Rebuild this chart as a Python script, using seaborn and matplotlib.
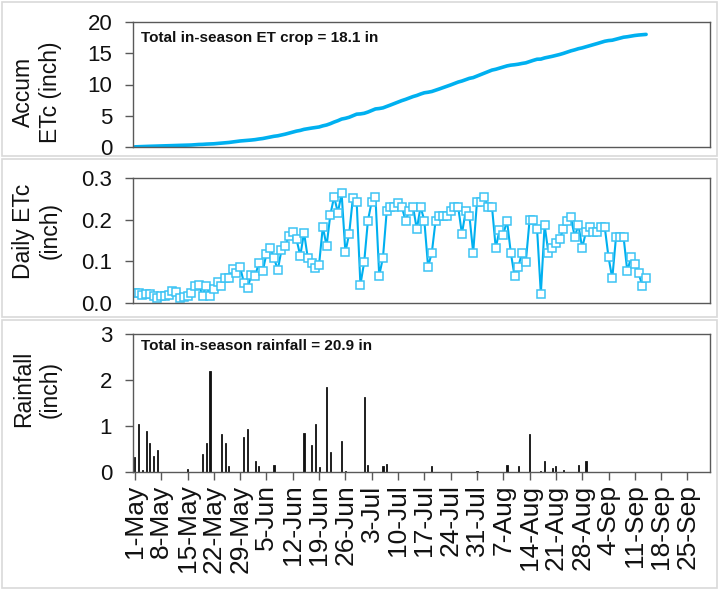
import numpy as np
import pandas as pd
import matplotlib
matplotlib.use("Agg")
import matplotlib.pyplot as plt
import seaborn as sns
from matplotlib.patches import Rectangle

# ---------------- data ----------------
season_start = "2024-05-01"

daily_etc = [
    0.023, 0.025, 0.020, 0.022, 0.022, 0.016, 0.012, 0.018, 0.016, 0.020,
    0.030, 0.027, 0.012, 0.014, 0.017, 0.023, 0.042, 0.044, 0.018, 0.042,
    0.017, 0.034, 0.050, 0.041, 0.060, 0.060, 0.081, 0.071, 0.086, 0.049,
    0.037, 0.067, 0.065, 0.097, 0.076, 0.118, 0.132, 0.109, 0.079, 0.127,
    0.137, 0.162, 0.170, 0.153, 0.113, 0.169, 0.108, 0.095, 0.084, 0.092,
    0.183, 0.137, 0.212, 0.255, 0.217, 0.263, 0.122, 0.166, 0.252, 0.243,
    0.044, 0.098, 0.198, 0.243, 0.254, 0.066, 0.109, 0.221, 0.231, 0.231,
    0.241, 0.231, 0.198, 0.221, 0.231, 0.177, 0.231, 0.198, 0.087, 0.121,
    0.198, 0.209, 0.209, 0.209, 0.220, 0.231, 0.231, 0.166, 0.220, 0.209,
    0.121, 0.242, 0.242, 0.254, 0.231, 0.231, 0.132, 0.175, 0.164, 0.198,
    0.121, 0.065, 0.087, 0.121, 0.098, 0.199, 0.199, 0.177, 0.022, 0.187,
    0.121, 0.132, 0.143, 0.154, 0.177, 0.198, 0.206, 0.159, 0.187, 0.132,
    0.171, 0.182, 0.170, 0.171, 0.182, 0.182, 0.110, 0.059, 0.159, 0.159,
    0.159, 0.076, 0.110, 0.094, 0.071, 0.042, 0.059,
]

# rainfall events: day offset from 1-May and depth (inch)
rain_day = [0, 1, 2, 3, 4, 5, 6, 14, 18, 19, 20, 23, 24, 25, 29, 30, 32, 33,
            37, 45, 47, 48, 49, 51, 52, 55, 56, 61, 62, 66, 67, 79, 91, 99,
            102, 105, 108, 109, 111, 112, 114, 118, 120]
rain_in = [0.33, 1.04, 0.04, 0.90, 0.62, 0.35, 0.47, 0.07, 0.40, 0.62, 2.19,
           0.83, 0.62, 0.12, 0.77, 0.94, 0.24, 0.14, 0.15, 0.85, 0.59, 1.04,
           0.10, 1.84, 0.44, 0.67, 0.02, 1.62, 0.15, 0.12, 0.17, 0.13, 0.03,
           0.15, 0.12, 0.82, 0.03, 0.23, 0.09, 0.12, 0.05, 0.15, 0.24]

tick_labels = ["1-May", "8-May", "15-May", "22-May", "29-May", "5-Jun",
               "12-Jun", "19-Jun", "26-Jun", "3-Jul", "10-Jul", "17-Jul",
               "24-Jul", "31-Jul", "7-Aug", "14-Aug", "21-Aug", "28-Aug",
               "4-Sep", "11-Sep", "18-Sep", "25-Sep"]

total_et_text = "Total in-season ET crop = 18.1 in"
total_rain_text = "Total in-season rainfall = 20.9 in"

# ---------------- build frames ----------------
start = pd.Timestamp(season_start)
df = pd.DataFrame({
    "date": pd.date_range(start, periods=len(daily_etc), freq="D"),
    "daily": daily_etc,
})
df["accum"] = df["daily"].cumsum()
rain_df = pd.DataFrame({
    "date": start + pd.to_timedelta(rain_day, unit="D"),
    "rain": rain_in,
})
tick_dates = pd.date_range(start, periods=len(tick_labels), freq="7D")

# ---------------- style ----------------
sns.set_theme(style="white")
plt.rcParams["font.family"] = ["Liberation Sans", "DejaVu Sans"]

W_PX, H_PX = 720, 591
fig = plt.figure(figsize=(W_PX / 100, H_PX / 100), dpi=100)

def fx(px):
    return px / W_PX

def fy(px):
    return 1 - px / H_PX

L, R = 133, 710
ax1 = fig.add_axes([fx(L), fy(147), fx(R - L), (147 - 22) / H_PX])
ax2 = fig.add_axes([fx(L), fy(303), fx(R - L), (303 - 178) / H_PX])
ax3 = fig.add_axes([fx(L), fy(472), fx(R - L), (472 - 334) / H_PX])

blue = "#00B0F0"
sns.lineplot(data=df, x="date", y="accum", ax=ax1, color=blue, lw=2.6)
sns.lineplot(data=df, x="date", y="daily", ax=ax2, color=blue, lw=1.5,
             marker="s", markersize=6.0, markerfacecolor="white",
             markeredgecolor="#3CC3F4", markeredgewidth=1.1)
ax3.bar(rain_df["date"], rain_df["rain"], width=0.3, color="#111111",
        edgecolor="#111111", linewidth=0.6)

xmin = start - pd.Timedelta(hours=12)
xmax = pd.Timestamp("2024-10-01")
spine_c = "#595959"
for ax in (ax1, ax2, ax3):
    ax.set_xlim(xmin, xmax)
    ax.set_xlabel("")
    ax.set_ylabel("")
    for s in ax.spines.values():
        s.set_visible(True)
        s.set_color(spine_c)
        s.set_linewidth(1.0)
    ax.tick_params(axis="y", left=True, direction="out", length=6, width=1,
                   color=spine_c, labelsize=16, pad=9, labelcolor="#111111")
    ax.grid(False)

for ax in (ax1, ax2):
    ax.tick_params(axis="x", bottom=False, labelbottom=False)

ax1.set_ylim(0, 20)
ax1.set_yticks([0, 5, 10, 15, 20])
ax2.set_ylim(0, 0.3)
ax2.set_yticks([0.0, 0.1, 0.2, 0.3])
ax2.set_yticklabels(["0.0", "0.1", "0.2", "0.3"])
ax3.set_ylim(0, 3)
ax3.set_yticks([0, 1, 2, 3])

ax3.set_xticks(tick_dates)
ax3.set_xticklabels(tick_labels, rotation=90)
ax3.tick_params(axis="x", bottom=True, direction="out", length=6, width=1,
                color=spine_c, labelsize=19, pad=3, labelcolor="#111111")

ax1.text(0.014, 0.87, total_et_text, transform=ax1.transAxes, ha="left",
         va="center", fontsize=11, fontweight="bold", color="#111111")
ax3.text(0.014, 0.91, total_rain_text, transform=ax3.transAxes, ha="left",
         va="center", fontsize=11, fontweight="bold", color="#111111")

# y-axis titles
lab_kw = dict(rotation=90, ha="center", va="center", multialignment="center",
              fontsize=16.5, color="#111111")
fig.text(fx(37), fy(92), "Accum\nETc (inch)", **lab_kw)
fig.text(fx(37), fy(231), "Daily ETc\n(inch)", **lab_kw)
fig.text(fx(37), fy(389), "Rainfall\n(inch)", **lab_kw)

# panel borders
for top, bot in ((2, 156), (159, 317), (320, 588)):
    fig.add_artist(Rectangle((fx(2), fy(bot)), fx(715), (bot - top) / H_PX,
                             transform=fig.transFigure, fill=False,
                             ec="#D9D9D9", lw=1.2))

fig.savefig("out.png", dpi=100)
